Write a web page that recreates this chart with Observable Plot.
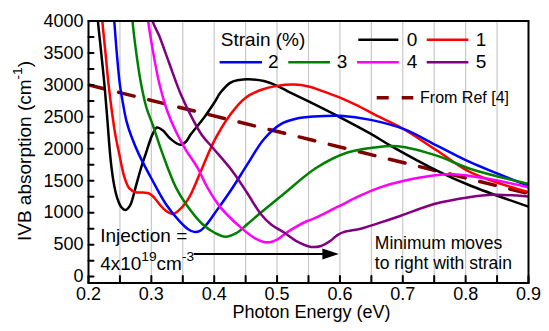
<!DOCTYPE html>
<html>
<head>
<meta charset="utf-8">
<script src="https://cdn.jsdelivr.net/npm/d3@7"></script>
<script src="https://cdn.jsdelivr.net/npm/@observablehq/plot@0.6"></script>
<style>
  body { margin: 0; background: #fff; }
  #chart svg { display: block; }
</style>
</head>
<body>
<div id="chart"></div>
<script>
// Intervalence-band absorption vs photon energy for several strain levels
const strainLabels = ["0", "1", "2", "3", "4", "5"];
const strainColors = ["#000000", "#ff0000", "#0000ff", "#008000", "#ff00ff", "#800080"];

// [photon energy (eV), absorption (cm^-1)]
const strain0 = [[0.212,4400],[0.215,4000],[0.2196,3560],[0.225,3040],[0.2295,2520],[0.2355,1800],[0.241,1420],[0.246,1220],[0.252,1090],[0.259,1042],[0.266,1110],[0.275,1400],[0.283,1680],[0.291,1920],[0.302,2230],[0.309,2333],[0.318,2290],[0.33,2160],[0.346,2062],[0.355,2110],[0.363,2230],[0.384,2490],[0.4,2720],[0.41,2880],[0.426,3036],[0.44,3078],[0.455,3089],[0.479,3060],[0.5,2985],[0.517,2900],[0.559,2698],[0.601,2489],[0.65,2230],[0.681,2047],[0.755,1656],[0.808,1422],[0.9,1094]];
const strain1 = [[0.219,4400],[0.222,4000],[0.227,3500],[0.232,3000],[0.237,2600],[0.2425,2230],[0.249,1917],[0.257,1560],[0.265,1380],[0.275,1320],[0.287,1315],[0.297,1300],[0.305,1230],[0.313,1130],[0.323,1030],[0.334,980],[0.344,1040],[0.355,1160],[0.363,1292],[0.379,1656],[0.4,2125],[0.426,2542],[0.45,2800],[0.474,2920],[0.5,2985],[0.527,3005],[0.55,2975],[0.57,2910],[0.6,2800],[0.623,2698],[0.665,2489],[0.697,2333],[0.755,1969],[0.808,1630],[0.9,1321]];
const strain2 = [[0.238,4400],[0.241,4000],[0.245,3500],[0.25,3000],[0.255,2700],[0.2605,2430],[0.268,2200],[0.28,1917],[0.302,1500],[0.323,1136],[0.344,875],[0.358,745],[0.368,700],[0.378,720],[0.389,830],[0.4,980],[0.426,1344],[0.453,1760],[0.479,2150],[0.506,2386],[0.53,2470],[0.559,2505],[0.601,2516],[0.649,2453],[0.702,2307],[0.755,2047],[0.808,1786],[0.9,1421]];
const strain3 = [[0.267,4400],[0.27,4000],[0.276,3500],[0.283,3050],[0.292,2650],[0.302,2380],[0.318,1917],[0.339,1396],[0.355,1136],[0.381,823],[0.4,690],[0.418,625],[0.435,680],[0.453,823],[0.474,1000],[0.51,1290],[0.562,1700],[0.612,1942],[0.654,2020],[0.692,2040],[0.755,1890],[0.808,1683],[0.9,1452]];
const strain4 = [[0.292,4400],[0.295,4000],[0.302,3560],[0.312,3050],[0.325,2600],[0.34,2250],[0.355,1980],[0.373,1710],[0.39,1380],[0.41,1083],[0.442,770],[0.465,600],[0.485,536],[0.5,580],[0.517,700],[0.532,790],[0.548,870],[0.559,910],[0.596,1090],[0.633,1270],[0.665,1400],[0.702,1500],[0.755,1590],[0.78,1600],[0.835,1530],[0.9,1399]];
const strain5 = [[0.299,4400],[0.302,4000],[0.312,3780],[0.328,3350],[0.347,2850],[0.365,2480],[0.38,2220],[0.4,1990],[0.429,1650],[0.453,1300],[0.474,980],[0.49,820],[0.511,690],[0.53,560],[0.554,465],[0.57,480],[0.585,560],[0.596,650],[0.607,700],[0.633,750],[0.665,848],[0.697,953],[0.75,1136],[0.803,1239],[0.845,1281],[0.9,1254]];

// Reference trend line
const refEnergy = [0.2, 0.9];
const refAbsorption = [3000, 1300];

// Axis ticks
const xTicks = [0.2, 0.3, 0.4, 0.5, 0.6, 0.7, 0.8, 0.9];
const xMinorTicks = [0.2, 0.25, 0.3, 0.35, 0.4, 0.45, 0.5, 0.55, 0.6, 0.65, 0.7, 0.75, 0.8, 0.85, 0.9];
const gridLines = [0.25, 0.3, 0.35, 0.4, 0.45, 0.5, 0.55, 0.6, 0.65, 0.7, 0.75, 0.8, 0.85];
const yTicks = [0, 500, 1000, 1500, 2000, 2500, 3000, 3500, 4000];
const yMinorTicks = [0, 250, 500, 750, 1000, 1250, 1500, 1750, 2000, 2250, 2500, 2750, 3000, 3250, 3500, 3750, 4000];

// Legend layout (in data units)
const legendKeys = [
  {s: "0", x1: 0.630, x2: 0.6937, lx: 0.7064, y: 3706},
  {s: "1", x1: 0.7389, x2: 0.8051, lx: 0.8162, y: 3706},
  {s: "2", x1: 0.4094, x2: 0.4769, lx: 0.4857, y: 3355},
  {s: "3", x1: 0.5186, x2: 0.5850, lx: 0.5950, y: 3355},
  {s: "4", x1: 0.6279, x2: 0.6942, lx: 0.7064, y: 3355},
  {s: "5", x1: 0.7389, x2: 0.8051, lx: 0.8162, y: 3355}
];
const legendTitle = [{text: "Strain (%)", x: 0.4105, y: 3700}];
const refKey = [{x1: 0.6593, x2: 0.7175, lx: 0.7275, y: 2798, text: "From Ref [4]"}];

// Annotations
const injectionNote = [
  {text: "Injection =", x: 0.2185, y: 635},
  {text: "4x10^{19}cm^{-3}", x: 0.2185, y: 202}
];
const arrowEnergy = [0.3809, 0.5983];
const arrowLevel = 354;
const shiftNote = [{text: "Minimum moves\nto right with strain", x: 0.6555, y: 652}];

const curves = [strain0, strain1, strain2, strain3, strain4, strain5];
const rows = curves.flatMap((c, i) => c.map(([e, a]) => ({strain: strainLabels[i], e, a})));
const refRows = refEnergy.map((e, i) => ({e, a: refAbsorption[i]}));

const tickShape = {draw(context, length) { context.moveTo(0, 0); context.lineTo(0, -length); }};
const arrowHead = {draw(context) { context.moveTo(0, 0); context.lineTo(-16.5, -5.5); context.lineTo(-16.5, 5.5); context.closePath(); }};

const font = "'Liberation Sans', Arial, Helvetica, sans-serif";

const chart = Plot.plot({
  width: 549,
  height: 331,
  marginLeft: 88,
  marginRight: 21,
  marginTop: 20.5,
  marginBottom: 48.5,
  style: {fontFamily: font, background: "#fff", color: "#000"},
  x: {domain: [0.2, 0.9], axis: null},
  y: {domain: [-100, 4000], axis: null},
  color: {domain: strainLabels, range: strainColors},
  marks: [
    Plot.ruleX(gridLines, {stroke: "#c8c8c8", strokeWidth: 1.2}),
    Plot.line(refRows, {x: "e", y: "a", stroke: "#800000", strokeWidth: 3.5, strokeDasharray: "16,15", clip: true}),
    Plot.line(rows, {x: "e", y: "a", z: "strain", stroke: "strain", strokeWidth: 2.5, curve: "catmull-rom", clip: true}),
    // legend
    Plot.text(legendTitle, {x: "x", y: "y", text: "text", textAnchor: "start", fontSize: 19}),
    Plot.ruleY(legendKeys, {x1: "x1", x2: "x2", y: "y", stroke: "s", strokeWidth: 2.5}),
    Plot.text(legendKeys, {x: "lx", y: "y", text: "s", textAnchor: "start", fontSize: 19}),
    Plot.ruleY(refKey, {x1: "x1", x2: "x2", y: "y", stroke: "#800000", strokeWidth: 3.5, strokeDasharray: "12,13"}),
    Plot.text(refKey, {x: "lx", y: "y", text: "text", textAnchor: "start", fontSize: 16}),
    // annotations
    Plot.text(injectionNote, {x: "x", y: "y", text: "text", textAnchor: "start", fontSize: 19}),
    Plot.ruleY([arrowLevel], {x1: arrowEnergy[0], x2: arrowEnergy[1], dx: -8, stroke: "#000", strokeWidth: 2}),
    Plot.dot([arrowLevel], {x: arrowEnergy[1], y: d => d, symbol: arrowHead, fill: "#000", stroke: "none"}),
    Plot.text(shiftNote, {x: "x", y: "y", text: "text", textAnchor: "start", lineAnchor: "top", lineHeight: 1.15, fontSize: 17.5}),
    // frame, ticks, labels
    Plot.frame({stroke: "#000", strokeWidth: 2}),
    Plot.vector(xMinorTicks, {x: d => d, frameAnchor: "bottom", length: 7, anchor: "start", shape: tickShape, stroke: "#000", strokeWidth: 2}),
    Plot.vector(yMinorTicks, {y: d => d, frameAnchor: "left", length: 5, rotate: 90, anchor: "start", shape: tickShape, stroke: "#000", strokeWidth: 2}),
    Plot.text(xTicks, {x: d => d, frameAnchor: "bottom", dy: 11, textAnchor: "middle", lineAnchor: "middle", text: d => d.toFixed(1), fontSize: 18}),
    Plot.text(yTicks, {y: d => d, frameAnchor: "left", dx: -5, textAnchor: "end", lineAnchor: "middle", text: d => String(d), fontSize: 18}),
    Plot.text(["Photon Energy (eV)"], {frameAnchor: "bottom", dx: 3, dy: 29, textAnchor: "middle", lineAnchor: "middle", text: d => d, fontSize: 18}),
    Plot.text(["IVB absorption (cm^{-1})"], {frameAnchor: "left", dx: -64, dy: -1, rotate: -90, textAnchor: "middle", lineAnchor: "middle", text: d => d, fontSize: 19})
  ]
});

document.getElementById("chart").append(chart);

// Turn ^{...} runs into raised, smaller tspans
chart.querySelectorAll("text").forEach(t => {
  const s = t.textContent;
  if (!s.includes("^{")) return;
  const size = parseFloat(getComputedStyle(t).fontSize);
  const shift = 0.45 * size;
  const parts = s.split(/\^\{([^}]*)\}/);
  t.textContent = "";
  let raised = false;
  parts.forEach((p, i) => {
    if (!p) return;
    const sp = document.createElementNS("http://www.w3.org/2000/svg", "tspan");
    sp.textContent = p;
    if (i % 2 === 1) {
      sp.setAttribute("font-size", (size * 0.72).toFixed(1));
      sp.setAttribute("dy", (-shift).toFixed(1));
      raised = true;
    } else if (raised) {
      sp.setAttribute("dy", shift.toFixed(1));
      raised = false;
    }
    t.appendChild(sp);
  });
});
</script>
</body>
</html>
